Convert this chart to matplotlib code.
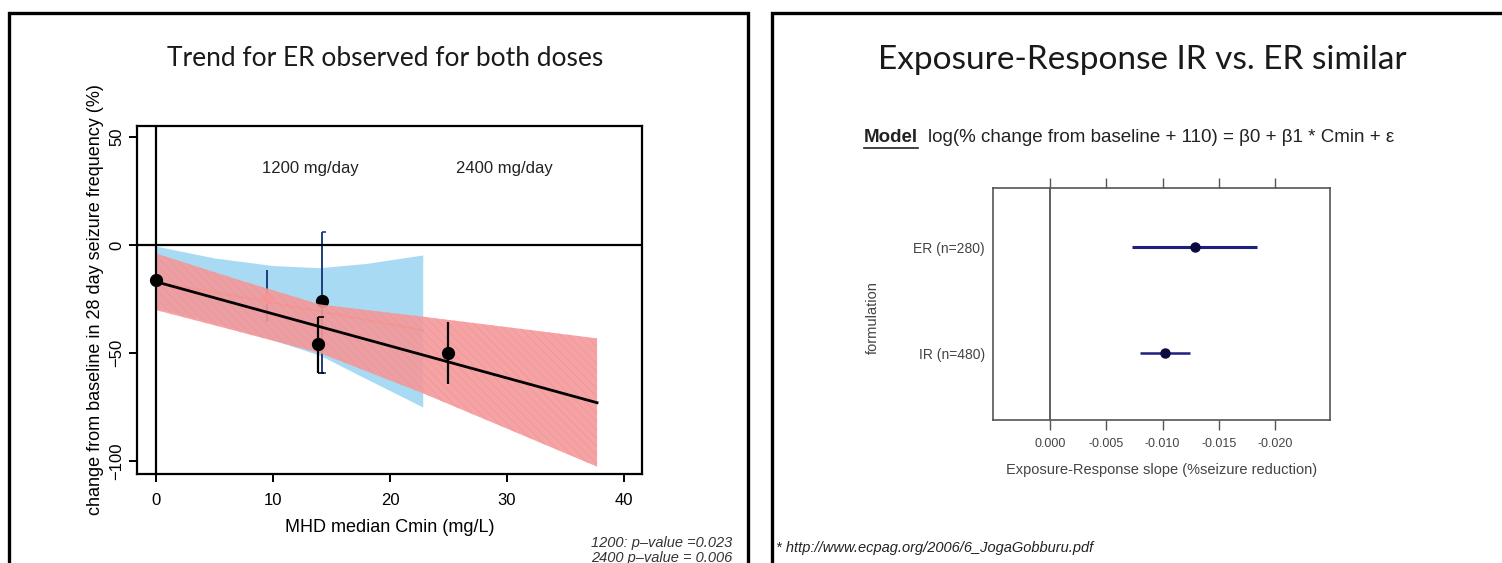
import numpy as np
import matplotlib
matplotlib.use("Agg")
import matplotlib.pyplot as plt
from matplotlib.patches import Rectangle

# ---- left panel: exposure-response by dose ----
# model bands (read at a few concentrations)
band_x_1200 = [0, 5, 10, 14, 18, 22.8]
band_hi_1200 = [-0.5, -6, -9.5, -10.5, -8.5, -4.6]
band_lo_1200 = [-29, -36, -44, -51, -62, -75]

band_x_2400 = [0, 7, 14, 22.85, 30, 37.7]
band_hi_2400 = [-3.9, -16, -27.5, -33.2, -38, -43.2]
band_lo_2400 = [-30.1, -40, -50, -68.7, -85, -102.6]

# fitted lines
fit_x_1200 = [0, 22.8]
fit_y_1200 = [-17, -39.4]
fit_x_2400 = [0, 37.7]
fit_y_2400 = [-17, -73]

# observed medians with intervals
obs_x_1200 = [9.46, 14.2]
obs_y_1200 = [-24.7, -25.9]
obs_lo_1200 = [-35.5, -59.4]
obs_hi_1200 = [-11.6, 6.2]

obs_x_2400 = [13.87, 24.98]
obs_y_2400 = [-46.0, -50.2]
obs_lo_2400 = [-59.4, -64.4]
obs_hi_2400 = [-33.2, -35.5]

placebo_x = [0]
placebo_y = [-16.2]

dose_labels = ["1200 mg/day", "2400 mg/day"]
dose_label_x = [13.2, 29.8]
x_ticks = [0, 10, 20, 30, 40]
y_ticks = [-100, -50, 0, 50]
p_values = ["1200: p\u2013value =0.023", "2400 p\u2013value = 0.006"]

# ---- right panel: slope by formulation ----
formulations = ["IR (n=480)", "ER (n=280)"]
slope = [-0.0102, -0.0129]
slope_lo = [-0.0080, -0.0073]
slope_hi = [-0.0124, -0.0184]
slope_ticks = [0.0, -0.005, -0.010, -0.015, -0.020]

W, H = 1502, 563
fig = plt.figure(figsize=(W / 100, H / 100), dpi=100)
fig.patch.set_facecolor("white")

def fx(px):
    return px / W

def fy(py):
    return 1 - py / H

sans = "Liberation Sans"
title_font = "Lato"

# panel frames
fig.patches.append(Rectangle((fx(9), -0.1), fx(748 - 9), fy(13) + 0.1,
                             transform=fig.transFigure, fill=False,
                             lw=2.4, ec="black"))
fig.patches.append(Rectangle((fx(772), -0.1), 0.5, fy(13) + 0.1,
                             transform=fig.transFigure, fill=False,
                             lw=2.4, ec="black"))

# ================= left panel =================
ax = fig.add_axes([fx(137), fy(474), fx(642 - 137), (474 - 126) / H])
ax.set_xlim(-1.62, 41.54)
ax.set_ylim(-106, 55.1)

ax.fill_between(band_x_1200, band_lo_1200, band_hi_1200,
                color="#a8daf3", lw=0, zorder=1)
ax.plot(fit_x_1200, fit_y_1200, color="#e8837a", lw=1.6, zorder=2)
ax.vlines(obs_x_1200, obs_lo_1200, obs_hi_1200, color="#1c3f7a", lw=1.4, zorder=3)
ax.plot(obs_x_1200[1:], obs_y_1200[1:], "o", color="black", ms=8.5, zorder=3)
ax.plot(obs_x_1200[:1], obs_y_1200[:1], "o", color="#f08c80", ms=7, zorder=3)
# short caps on the overlapping bars near 14 mg/L
ax.hlines([obs_hi_1200[1], obs_lo_1200[1]], obs_x_1200[1], obs_x_1200[1] + 0.35,
          color="#1c3f7a", lw=1.2, zorder=3)

plt.rcParams["hatch.linewidth"] = 0.4
ax.fill_between(band_x_2400, band_lo_2400, band_hi_2400,
                facecolor="#f4999a", edgecolor="#f08f90", hatch="\\\\\\\\",
                lw=0, alpha=0.9, zorder=4)
ax.plot(fit_x_2400, fit_y_2400, color="black", lw=2, zorder=5)
ax.vlines(obs_x_2400, obs_lo_2400, obs_hi_2400, color="black", lw=1.6, zorder=6)
ax.hlines([obs_hi_2400[0], obs_lo_2400[0]], obs_x_2400[0], obs_x_2400[0] + 0.45,
          color="black", lw=1.2, zorder=6)
ax.plot(obs_x_2400, obs_y_2400, "o", color="black", ms=8.5, zorder=7)
ax.plot(placebo_x, placebo_y, "o", color="black", ms=8.5, zorder=7)

ax.axhline(0, color="black", lw=1.6, zorder=6)
ax.axvline(0, color="black", lw=1.6, zorder=6)

for x, s in zip(dose_label_x, dose_labels):
    ax.text(x, 35.6, s, ha="center", va="center", fontsize=12,
            family=sans, color="#222222")

ax.set_xticks(x_ticks)
ax.set_yticks(y_ticks)
ax.tick_params(direction="out", length=6, width=1.4, labelsize=12, color="black")
ax.tick_params(axis="x", pad=8)
ax.tick_params(axis="y", pad=3, labelrotation=90)
for lab in ax.get_yticklabels():
    lab.set_va("center")
for lab in ax.get_xticklabels() + ax.get_yticklabels():
    lab.set_family(sans)
for sp in ax.spines.values():
    sp.set_linewidth(1.6)

fig.text(fx(390), fy(528), "MHD median Cmin (mg/L)", ha="center", va="center",
         fontsize=13, family=sans)
fig.text(fx(96), fy(300), "change from baseline in 28 day seizure frequency (%)",
         rotation=90, ha="center", va="center", fontsize=13, family=sans)
fig.text(fx(385), fy(59), "Trend for ER observed for both doses", ha="center",
         va="center", fontsize=19, family=title_font, color="#1a1a1a")
fig.text(fx(732), fy(543), p_values[0], ha="right", va="center", fontsize=10.5,
         style="italic", family=sans, color="#333333")
fig.text(fx(732), fy(558), p_values[1], ha="right", va="center", fontsize=10.5,
         style="italic", family=sans, color="#333333")

# ================= right panel =================
ax2 = fig.add_axes([fx(993), fy(420), fx(1330 - 993), (420 - 188) / H])
ax2.set_xlim(0.0051, -0.0249)
ax2.set_ylim(0.37, 2.56)
ypos = np.arange(1, len(formulations) + 1)

ax2.axvline(0, color="#444444", lw=1.2)
ax2.hlines(ypos, slope_lo, slope_hi, color="#1f1f80", lw=[1.8, 2.2])
ax2.plot(slope, ypos, "o", color="#0b0b3d", ms=6.5)

ax2.set_xticks(slope_ticks)
ax2.set_xticklabels([f"{v:.3f}" if v != 0 else "0.000" for v in slope_ticks])
ax2.set_yticks(ypos)
ax2.set_yticklabels(formulations)
ax2.tick_params(axis="x", direction="out", length=7, width=1, color="#555555",
                labelsize=9, labelcolor="#444444", pad=6, top=True)
ax2.tick_params(axis="x", which="major", labeltop=False)
ax2.tick_params(axis="y", length=0, labelsize=10, labelcolor="#444444", pad=6)
for lab in ax2.get_xticklabels() + ax2.get_yticklabels():
    lab.set_family(sans)
for sp in ax2.spines.values():
    sp.set_linewidth(1.2)
    sp.set_color("#555555")

fig.text(fx(1162), fy(470), "Exposure-Response slope (%seizure reduction)",
         ha="center", va="center", fontsize=10.5, family=sans, color="#444444")
fig.text(fx(873), fy(318), "formulation", rotation=90, ha="center", va="center",
         fontsize=10.5, family=sans, color="#444444")

fig.text(fx(1142), fy(60), "Exposure-Response IR vs. ER similar", ha="center",
         va="center", fontsize=24, family=title_font, color="#1a1a1a")

model = fig.text(fx(864), fy(138), "Model", ha="left", va="center", fontsize=13.5,
                 weight="bold", family=sans, color="#222222")
fig.canvas.draw()
bb = model.get_window_extent().transformed(fig.transFigure.inverted())
fig.lines.append(plt.Line2D([bb.x0, bb.x1], [bb.y0 - 0.003, bb.y0 - 0.003],
                            transform=fig.transFigure, color="#222222", lw=1.2))
fig.text(bb.x1 + fx(10), fy(138),
         "log(% change from baseline + 110) = \u03b20 + \u03b21 * Cmin + \u03b5",
         ha="left", va="center", fontsize=13.5, family=sans, color="#222222")

fig.text(fx(776), fy(548), "* http://www.ecpag.org/2006/6_JogaGobburu.pdf",
         ha="left", va="center", fontsize=10.5, style="italic", family=sans,
         color="#222222")

fig.savefig("out.png", dpi=100)
